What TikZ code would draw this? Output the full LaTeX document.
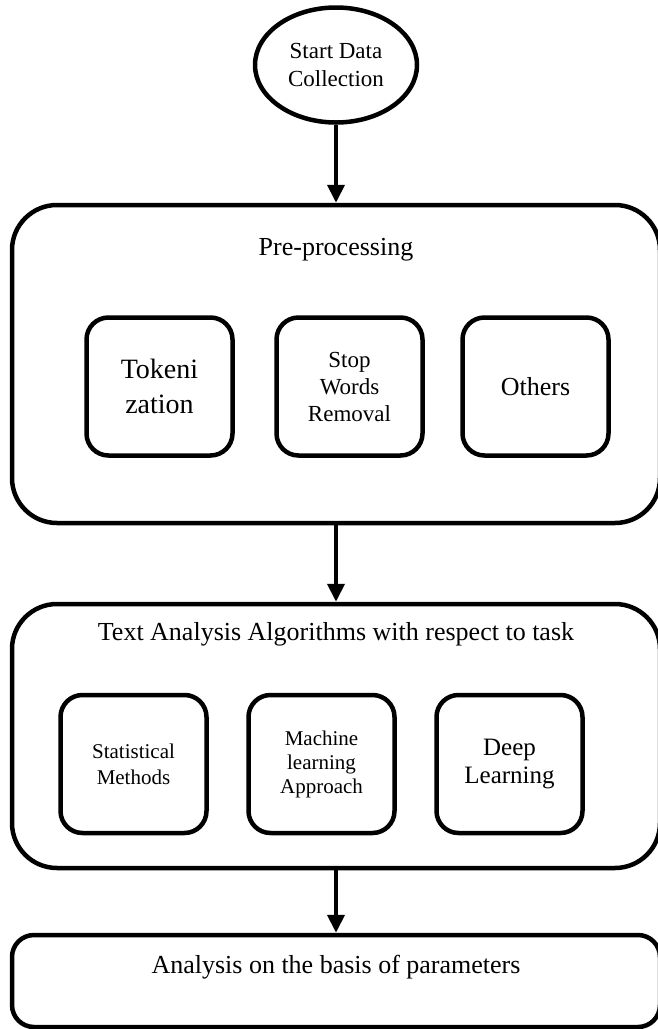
\documentclass[tikz,border=0pt]{standalone}
\usepackage{fontspec}
\setmainfont{Liberation Serif}
\usetikzlibrary{shapes.geometric,arrows.meta}

\begin{document}
\begin{tikzpicture}[x=1pt,y=-1pt,
    bigbox/.style={draw,line width=4.5pt,rounded corners=45pt,minimum width=648pt},
    smallbox/.style={draw,line width=4.5pt,rounded corners=22pt,minimum width=146pt,minimum height=138pt,align=center},
    arr/.style={line width=4pt,-{Triangle[length=18pt,width=17pt]}}]
      \useasboundingbox (0,0) rectangle (657,1029);

      \node[draw,ellipse,line width=4.5pt,minimum width=162pt,minimum height=115pt,align=center,
        font=\fontsize{23}{28}\selectfont] (start) at (336,65) {
        Start Data\\
        Collection
      };

      \node[bigbox,minimum height=318pt] (prep) at (336,364) {};
      \node[font=\fontsize{26}{30}\selectfont] (preplabel) at (336,250) {Pre-processing};
      \node[smallbox,font=\fontsize{28}{35}\selectfont] (tok) at (159.5,386.5) {
        Tokeni\\
        zation
      };
      \node[smallbox,font=\fontsize{23}{27}\selectfont] (stop) at (349.5,386.5) {
        Stop\\
        Words\\
        Removal
      };
      \node[smallbox,font=\fontsize{26}{30}\selectfont] (others) at (535.5,386.5) {Others};

      \node[bigbox,minimum height=264pt] (algo) at (336,736) {};
      \node[font=\fontsize{26}{30}\selectfont] (algolabel) at (336,634) {Text Analysis Algorithms with respect to task};
      \node[smallbox,font=\fontsize{21}{26}\selectfont] (stat) at (133.5,764) {
        Statistical\\
        Methods
      };
      \node[smallbox,font=\fontsize{21}{24}\selectfont] (ml) at (321.5,764) {
        Machine\\
        learning\\
        Approach
      };
      \node[smallbox,font=\fontsize{25}{28}\selectfont] (deep) at (509.5,764) {
        Deep\\
        Learning
      };

      \node[bigbox,rounded corners=22pt,minimum height=92pt] (result) at (336,981) {};
      \node[font=\fontsize{26}{30}\selectfont] (resultlabel) at (336,967) {Analysis on the basis of parameters};

      \draw[arr] (start) -- (prep);
      \draw[arr] (prep) -- (algo);
      \draw[arr] (algo) -- (result);
    \end{tikzpicture}
\end{document}
